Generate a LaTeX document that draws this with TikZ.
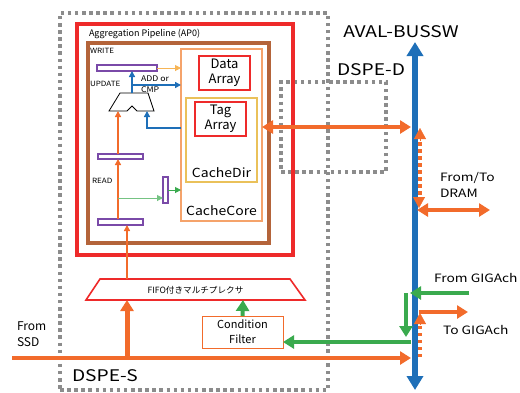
\documentclass[tikz,border=0pt]{standalone}
\usepackage{fontspec}
\setmainfont{Noto Sans CJK JP}
\newfontfamily\wfont[FakeStretch=1.2]{Noto Sans CJK JP}
\newfontfamily\mfont[FakeStretch=1.12]{Noto Sans CJK JP}
\usetikzlibrary{arrows.meta,calc}
\definecolor{cred}{HTML}{EE2A2A}
\definecolor{cbrown}{HTML}{B4643A}
\definecolor{corange}{HTML}{F26B2B}
\definecolor{clorange}{HTML}{F5A36B}
\definecolor{cyellow}{HTML}{EAC15A}
\definecolor{cpurple}{HTML}{7A4AA8}
\definecolor{cblue}{HTML}{1E6FB8}
\definecolor{cgreen}{HTML}{3AAA4E}
\definecolor{cgray}{HTML}{8C8C8C}
\begin{document}
\begin{tikzpicture}[x=1pt,y=-1pt,
  every node/.style={inner sep=0pt,outer sep=0pt},
  grayfence/.style={draw=cgray,line width=3.5pt,dash pattern=on 3.5pt off 3.6pt},
  regbar/.style={draw=cpurple,line width=1.2pt,fill=white},
  bigtip/.style={-{Triangle[width=13pt,length=11pt]}},
  bigtips/.style={{Triangle[width=13pt,length=11pt]}-{Triangle[width=13pt,length=11pt]}},
  smalltip/.style={-{Triangle[width=6pt,length=6pt]}},
  orthick/.style={draw=corange,line width=4pt},
  orthin/.style={draw=corange,line width=1.6pt,smalltip},
  bluethin/.style={draw=cblue,line width=1.8pt,smalltip},
  greenthick/.style={draw=cgreen,line width=4pt},
  ordots/.style={draw=corange,line width=4pt,dash pattern=on 3.5pt off 3.5pt},
  lbl/.style={font=\fontsize{#1}{#1}\selectfont},
  wlbl/.style={font=\fontsize{#1}{#1}\selectfont\wfont},
  sublbl/.style={font=\fontsize{#1}{#1}\selectfont\mfont}
]
\useasboundingbox (0,0) rectangle (520,392);

% fences
\node[grayfence,minimum width=268pt,minimum height=377pt] (dspes) at (194,201.5) {};
\node[grayfence,minimum width=105pt,minimum height=90pt] (dsped) at (333.5,127) {};

% pipeline boxes
\node[draw=cred,line width=4pt,minimum width=216pt,minimum height=231pt] (ap0) at (185,139.5) {};
\node[draw=cbrown,line width=3.5pt,minimum width=181pt,minimum height=200pt] (pipe) at (178.5,143) {};
\node[draw=clorange,line width=1.2pt,minimum width=81pt,minimum height=172pt] (ccore) at (221.5,135) {};
\node[draw=cyellow,line width=1.2pt,minimum width=71pt,minimum height=84pt] (cdir) at (221.5,140) {};
\node[draw=cred,line width=1.2pt,minimum width=51pt,minimum height=34pt,align=center,
      font=\fontsize{13}{15}\selectfont] (data) at (224.5,73) {Data\\Array};
\node[draw=cred,line width=1.2pt,minimum width=51pt,minimum height=34pt,align=center,
      font=\fontsize{13}{15}\selectfont] (tag) at (220.5,119) {Tag\\Array};
\node[sublbl=12.5] (cdirl) at (221.5,173) {CacheDir};
\node[sublbl=12.5] (ccorel) at (221.5,211) {CacheCore};
\node[lbl=9,anchor=west] (ap0l) at (89,34) {Aggregation Pipeline (AP0)};

% registers
\node[regbar,minimum width=60pt,minimum height=6pt] (wbar) at (127,68) {};
\node[regbar,minimum width=45pt,minimum height=5pt] (rbar1) at (120.5,156.5) {};
\node[regbar,minimum width=45pt,minimum height=6pt] (rbar2) at (120.5,222) {};
\node[regbar,minimum width=5pt,minimum height=26pt] (vbar) at (165.5,190) {};

\node[sublbl=7.2,anchor=west] (wl) at (90,51) {WRITE};
\node[sublbl=7.2,anchor=west] (ul) at (90,83.5) {UPDATE};
\node[sublbl=7.2,anchor=west] (rl) at (92,181) {READ};
\node[anchor=west,align=left,font=\fontsize{7.8}{10.5}\selectfont\mfont] (addl) at (141,84) {ADD or\\CMP};

% mux
\draw[line width=0.8pt] (109,111) -- (120,93) -- (148,93) -- (154,111) -- (137,111) -- (132,106) -- (127,111) -- cycle;
\coordinate (muxtop) at (132,93);
\coordinate (muxinl) at (118,111);
\coordinate (muxinr) at (147,111);

% inner connectors
\draw[bluethin] (muxtop) -- (132,71);
\draw[bluethin] (132,85) -- (ccore.west |- 0,85);
\draw[draw=cblue,line width=1.8pt,smalltip] (ccore.west |- 0,128) -| (muxinr);
\draw[draw=clorange!80!yellow,line width=1pt,smalltip] (wbar.east) -- (ccore.west |- wbar.east);
\draw[orthin] (118,154) -- (muxinl);
\draw[orthin] (118,219) -- (118,159);
\draw[draw=cgreen!70,line width=1pt,smalltip] (118,198) -- (163,198);
\draw[draw=cgreen,line width=1pt,smalltip] (vbar.east |- 0,190) -- (ccore.west |- 0,190);

% FIFO mux
\draw[draw=cred,line width=1.6pt] (100,279) -- (290,279) -- (305,300) -- (86,300) -- cycle;
\node[lbl=8.6] (fifo) at (195.5,290) {FIFO付きマルチプレクサ};
\coordinate (fifotop) at (127,279);
\draw[orthin] (fifotop) -- (127,225);

% condition filter
\node[draw=corange,line width=1pt,minimum width=81pt,minimum height=32pt,align=center,
      font=\fontsize{11}{15}\selectfont] (cf) at (242.5,332) {Condition\\Filter};
\draw[greenthick,bigtip] (cf.north) -- (243,300);

% bus
\coordinate (bustop) at (415,42);
\coordinate (busbot) at (415,390);
\draw[draw=cblue,line width=6pt,{Triangle[width=16pt,length=14pt]}-{Triangle[width=16pt,length=14pt]}] (busbot) -- (bustop);

% SSD line
\coordinate (ssd) at (12,358);
\draw[orthick,bigtip] (ssd) -- (411,358);
\draw[draw=corange,line width=5pt,bigtip] (127,356) -- (127,300);

% tag array <-> bus
\draw[orthick,bigtips] (ccore.east |- 0,127) -- (411,127);

% DRAM
\draw[ordots] (420,142) -- (420,196);
\draw[draw=corange,-{Triangle[width=12pt,length=11pt]}] (420,141) -- (420,128);
\draw[draw=corange,-{Triangle[width=12pt,length=11pt]}] (419,197) -- (419,208);
\draw[orthick,bigtips] (417,210) -- (490,210);
\node[anchor=west,align=left,font=\fontsize{11.5}{16}\selectfont\wfont] (draml) at (440,185) {From/To\\DRAM};

% GIGAch
\draw[greenthick,bigtip] (469,293) -- (410,293);
\draw[greenthick,bigtip] (406,293) -- (406,337);
\draw[greenthick,bigtip] (411,342) -- (cf.east |- 0,342);
\draw[ordots] (420,357) -- (420,324);
\draw[draw=corange,-{Triangle[width=12pt,length=11pt]}] (420,324) -- (420,313);
\draw[orthick,bigtip] (419,312) -- (468,312);
\node[wlbl=11.5,anchor=west] (fgl) at (434,278) {From GIGAch};
\node[wlbl=11.5,anchor=west] (tgl) at (443,330) {To GIGAch};

% big labels
\node[wlbl=16] (busl) at (401,32) {AVAL-BUSSW};
\node[wlbl=16] (dspedl) at (371,70) {DSPE-D};
\node[wlbl=16,anchor=west] (dspesl) at (72,376) {DSPE-S};
\node[anchor=west,align=left,font=\fontsize{12}{16}\selectfont] (ssdl) at (17,334) {From\\SSD};
\end{tikzpicture}
\end{document}
